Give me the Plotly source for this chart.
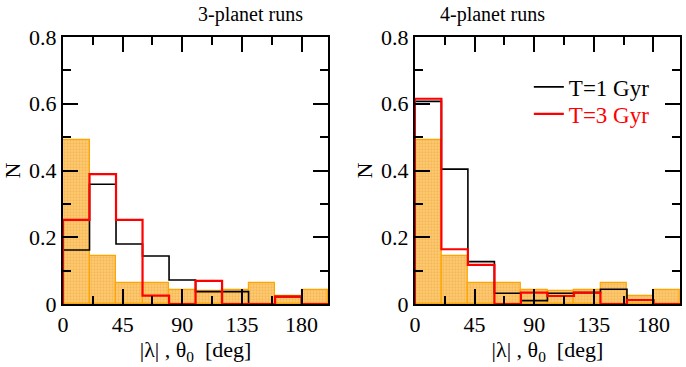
import plotly.graph_objects as go

bin_edges = [0, 20, 40, 60, 80, 100, 120, 140, 160, 180, 200]
bin_centers = [10, 30, 50, 70, 90, 110, 130, 150, 170, 190]

theta0 = [0.49, 0.144, 0.062, 0.062, 0.042, 0.040, 0.042, 0.062, 0.024, 0.042]

p3_T1 = [0.162, 0.359, 0.180, 0.144, 0.072, 0.037, 0.037, 0.0, 0.022, 0.0]
p3_T3 = [0.252, 0.389, 0.252, 0.025, 0.0, 0.069, 0.0, 0.0, 0.022, 0.0]

p4_T1 = [0.607, 0.404, 0.127, 0.032, 0.010, 0.032, 0.034, 0.044, 0.012, 0.0]
p4_T3 = [0.615, 0.164, 0.117, 0.0, 0.034, 0.024, 0.034, 0.0, 0.012, 0.0]

titles = ["3-planet runs", "4-planet runs"]
x_tickvals = [0, 45, 90, 135, 180]
y_tickvals = [0, 0.2, 0.4, 0.6, 0.8]
y_ticktext = ["0", "0.2", "0.4", "0.6", "0.8"]
legend_names = ["T=1 Gyr", "T=3 Gyr"]

def step_xy(edges, vals):
    xs = [edges[0]] + list(edges[:-1]) + [edges[-1], edges[-1]]
    ys = [0] + list(vals) + [vals[-1], 0]
    return xs, ys

fig = go.Figure()
panels = [(p3_T1, p3_T3), (p4_T1, p4_T3)]
serif = "Liberation Serif"

for i, (t1, t3) in enumerate(panels):
    xa = "x" if i == 0 else "x2"
    ya = "y" if i == 0 else "y2"
    fig.add_trace(go.Bar(
        x=bin_centers, y=theta0, width=20, xaxis=xa, yaxis=ya,
        marker=dict(color="#FFC86A", line=dict(color="#FFA500", width=1.2),
                    pattern=dict(shape=".", fgcolor="#E9A33C", bgcolor="#FFCB72",
                                 size=3, solidity=0.45)),
        showlegend=False, hoverinfo="skip"))
    xs, ys = step_xy(bin_edges, t1)
    fig.add_trace(go.Scatter(x=xs, y=ys, mode="lines", line_shape="hv",
                             line=dict(color="black", width=1.6),
                             xaxis=xa, yaxis=ya, name=legend_names[0],
                             legend="legend", showlegend=(i == 1)))
    xs, ys = step_xy(bin_edges, t3)
    fig.add_trace(go.Scatter(x=xs, y=ys, mode="lines", line_shape="hv",
                             line=dict(color="#ff0000", width=2.2),
                             xaxis=xa, yaxis=ya, name=legend_names[1],
                             legend="legend2", showlegend=(i == 1)))

axis_style = dict(ticks="inside", ticklen=15, tickwidth=1.5, tickcolor="black",
                  showline=True, linewidth=2, linecolor="black", mirror="ticks",
                  showgrid=False, zeroline=False)

fig.update_layout(
    width=686, height=367,
    margin=dict(l=63, r=4, t=37, b=63),
    paper_bgcolor="white", plot_bgcolor="white",
    barmode="overlay", bargap=0,
    font=dict(family=serif, color="black"),
    xaxis=dict(domain=[0, 0.4297], anchor="y"),
    yaxis=dict(domain=[0, 1], anchor="x"),
    xaxis2=dict(domain=[0.5703, 1], anchor="y2"),
    yaxis2=dict(domain=[0, 1], anchor="x2"),
    legend=dict(x=0.755, y=0.813, xanchor="left", yanchor="middle",
                bgcolor="rgba(0,0,0,0)", font=dict(family=serif, size=23, color="black"),
                itemwidth=30),
    legend2=dict(x=0.755, y=0.712, xanchor="left", yanchor="middle",
                 bgcolor="rgba(0,0,0,0)", font=dict(family=serif, size=23, color="#ff0000"),
                 itemwidth=30),
    showlegend=True,
)

fig.update_xaxes(range=[0, 200], tickvals=x_tickvals,
                 minor=dict(dtick=22.5, tick0=0, ticks="inside", ticklen=8,
                            tickwidth=1.5, tickcolor="black", showgrid=False),
                 tickfont_family=serif, tickfont_size=22, tickfont_color="black",
                 title_text="|λ| , θ<sub>0</sub>  [deg]", title_font_family=serif,
                 title_font_size=22, title_font_color="black", title_standoff=0,
                 **axis_style)
fig.update_yaxes(range=[0, 0.8], tickvals=y_tickvals, ticktext=y_ticktext,
                 minor=dict(dtick=0.1, tick0=0, ticks="inside", ticklen=8,
                            tickwidth=1.5, tickcolor="black", showgrid=False),
                 tickfont_family=serif, tickfont_size=22, tickfont_color="black",
                 title_text="N", title_font_family=serif, title_font_size=22,
                 title_font_color="black", title_standoff=2,
                 **axis_style)

for i, t in enumerate(titles):
    dom = [0, 0.4297] if i == 0 else [0.5703, 1]
    fig.add_annotation(text=t, xref="paper", yref="paper", x=(dom[0] + dom[1]) / 2,
                       y=1, yshift=9, yanchor="bottom", showarrow=False,
                       font=dict(family=serif, size=20, color="black"))

fig.write_html("out.html", config={"displayModeBar": False},
               post_script="document.body.style.margin='0';")
